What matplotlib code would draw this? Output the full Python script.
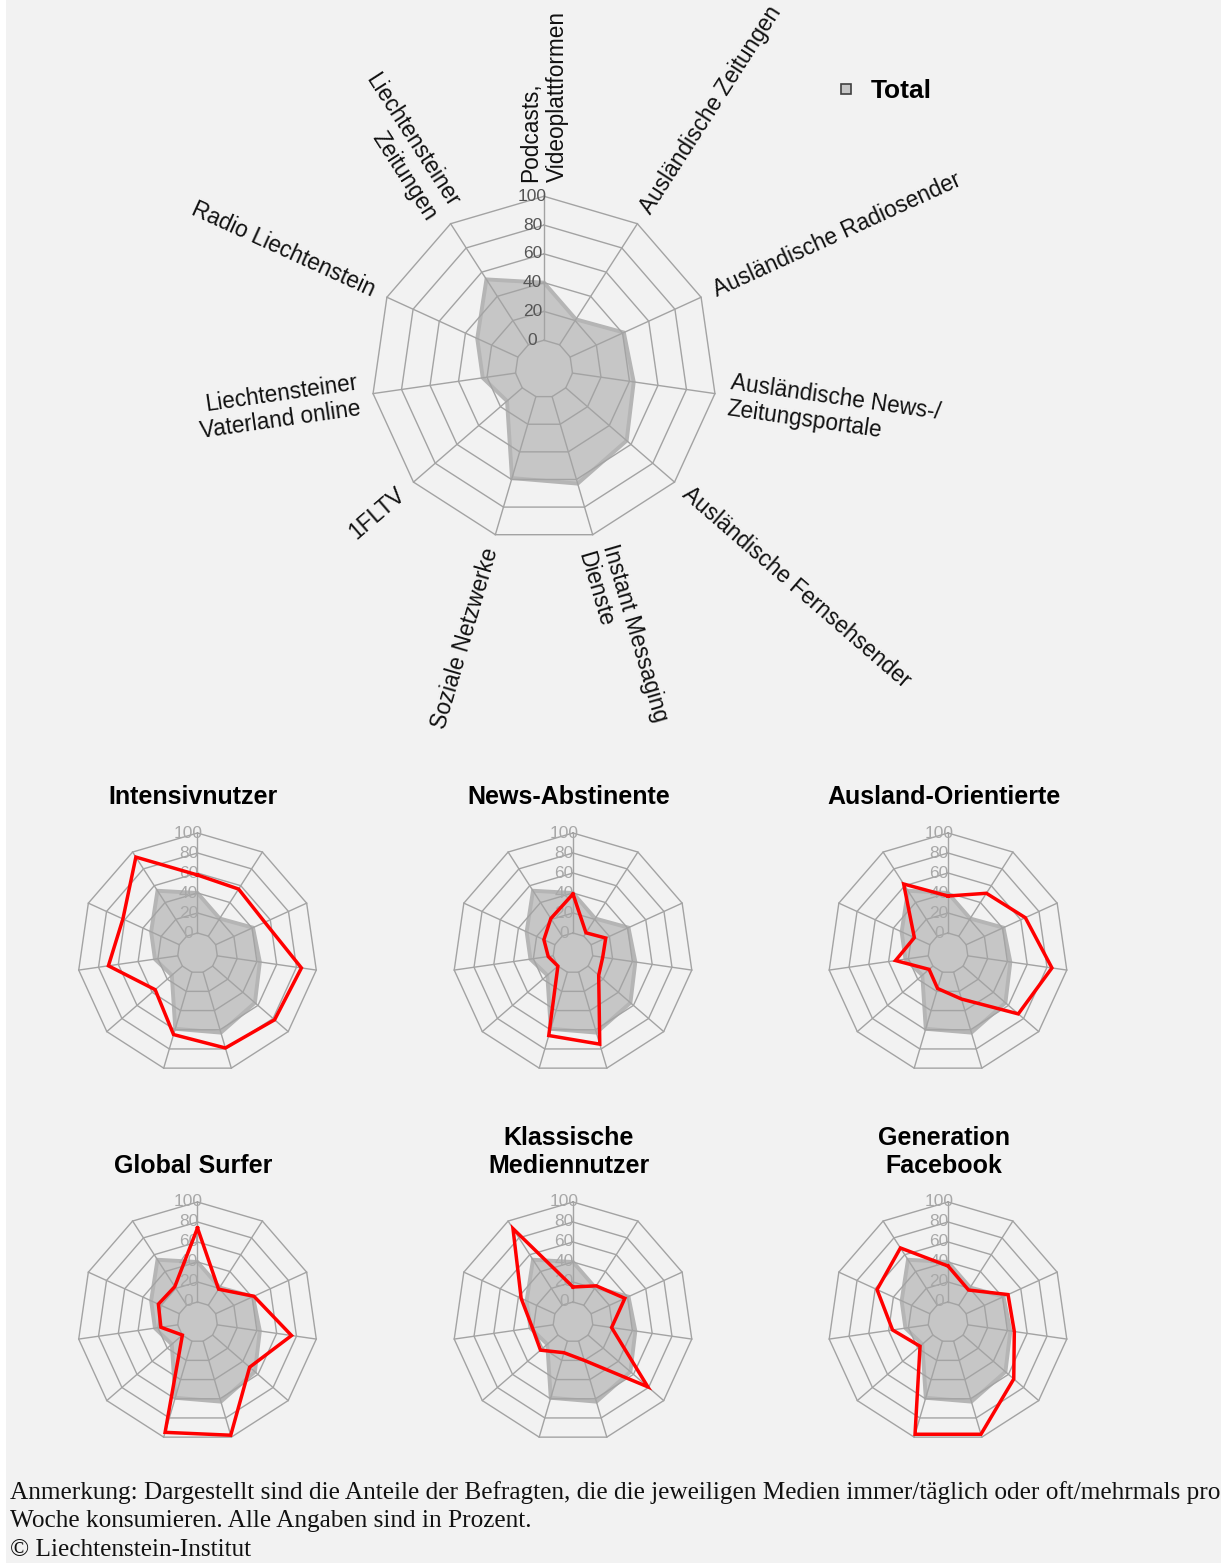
import numpy as np
import matplotlib
matplotlib.use("Agg")
import matplotlib.pyplot as plt
from matplotlib.lines import Line2D
from matplotlib.patches import Rectangle

plt.rcParams['font.family'] = ['Liberation Sans', 'DejaVu Sans']

# ---------------- data ----------------
categories = ["Podcasts,\nVideoplattformen", "Ausländische Zeitungen", "Ausländische Radiosender",
              "Ausländische News-/\nZeitungsportale", "Ausländische Fernsehsender",
              "Instant Messaging\nDienste", "Soziale Netzwerke", "1FLTV",
              "Liechtensteiner\nVaterland online", "Radio Liechtenstein",
              "Liechtensteiner\nZeitungen"]
total = [40, 21, 41, 43, 56, 63, 59, 14, 23, 31, 54]

segment_titles = ["Intensivnutzer", "News-Abstinente", "Ausland-Orientierte",
                  "Global Surfer", "Klassische\nMediennutzer", "Generation\nFacebook"]
intensivnutzer = [58, 56, 54, 85, 82, 79, 65, 36, 70, 62, 94]
news_abstinente = [39, 4, 16, 10, 14, 75, 66, 0, 5, 12, 21]
ausland_orientierte = [37, 51, 65, 85, 73, 28, 17, 5, 33, 17, 62]
global_surfer = [74, 19, 42, 75, 49, 98, 95, 0, 17, 23, 22]
klassische_mediennutzer = [15, 23, 37, 19, 79, 20, 12, 23, 21, 37, 91]
generation_facebook = [36, 18, 46, 47, 67, 97, 97, 17, 36, 58, 68]
segment_values = [intensivnutzer, news_abstinente, ausland_orientierte,
                  global_surfer, klassische_mediennutzer, generation_facebook]

radial_ticks = [0, 20, 40, 60, 80, 100]
legend_label = "Total"
note_lines = ["Anmerkung: Dargestellt sind die Anteile der Befragten, die die jeweiligen Medien immer/täglich oder oft/mehrmals pro",
              "Woche konsumieren. Alle Angaben sind in Prozent.",
              "© Liechtenstein-Institut"]

# ---------------- layout ----------------
W, H = 1221, 1567
fig = plt.figure(figsize=(W / 100, H / 100), dpi=100, facecolor='white')
fig.patches.append(Rectangle((6 / W, 1 - 1563 / H), 1 - 6 / W, 1563 / H,
                             transform=fig.transFigure, facecolor='#f2f2f2',
                             edgecolor='none', zorder=-10))

n = len(categories)
theta = np.arange(n) * 2 * np.pi / n
theta_c = np.append(theta, theta[0])

GRID = '#a3a3a3'
FILL = '#c6c6c6'
FILL_EDGE = '#b5b5b5'


def make_radar(cx, cy, R, tick_color, tick_dx, tick_fs):
    ax = fig.add_axes([(cx - R) / W, 1 - (cy + R) / H, 2 * R / W, 2 * R / H],
                      projection='polar')
    ax.set_theta_zero_location('N')
    ax.set_theta_direction(-1)
    ax.set_ylim(0, 100)
    ax.set_rorigin(-20)
    ax.axis('off')
    ax.fill(theta_c, np.append(total, total[0]), facecolor=FILL,
            edgecolor=FILL_EDGE, lw=2.8, clip_on=False, zorder=1)
    for v in radial_ticks:
        ax.plot(theta_c, [v] * (n + 1), color=GRID, lw=1.0, clip_on=False, zorder=2)
    for t in theta:
        ax.plot([t, t], [radial_ticks[0], radial_ticks[-1]], color=GRID, lw=1.0,
                clip_on=False, zorder=2)
    for v in radial_ticks:
        ax.annotate(str(v), xy=(0, v), xytext=(tick_dx, 0), textcoords='offset points',
                    ha='center', va='center', fontsize=tick_fs, color=tick_color, zorder=3,
                    annotation_clip=False)
    return ax


# main chart
main_ax = make_radar(544, 369, 172.7, '#555555', -8.3, 12.5)
for i, lab in enumerate(categories):
    phi = np.degrees(theta[i])
    rot = 90 - phi
    if rot < -90.01:
        rot += 180
        ha = 'right'
    else:
        ha = 'left'
    main_ax.text(theta[i], 110, lab, rotation=rot, rotation_mode='anchor',
                 ha=ha, va='center', multialignment=ha, fontsize=16.3,
                 color='#111111', clip_on=False)

# legend
handle = Line2D([], [], marker='s', ls='none', ms=7.5, mfc=FILL, mec='#404040', mew=1.2)
fig.legend(handles=[handle], labels=[legend_label], loc='center left',
           bbox_to_anchor=(832.5 / W, 1 - 91 / H), frameon=False,
           prop={'weight': 'bold', 'size': 19}, handlelength=1,
           handletextpad=0.45, borderpad=0, borderaxespad=0)

# small charts
centers_x = [197.5, 573, 948]
centers_y = [953, 1322]
Rs = 120
for k, (title, vals) in enumerate(zip(segment_titles, segment_values)):
    cx = centers_x[k % 3]
    cy = centers_y[k // 3]
    ax = make_radar(cx, cy, Rs, '#a8a8a8', -6.5, 12.5)
    ax.plot(theta_c, np.append(vals, vals[0]), color='#ff0000', lw=2.5,
            solid_joinstyle='miter', clip_on=False, zorder=4)
    fig.text((cx - 4) / W, 1 - (cy - Rs - 24) / H, title, ha='center', va='bottom',
             fontsize=18, fontweight='bold', color='#000000', linespacing=1.2)

# footnote, fitted to the width of the reference
note_texts = []
for j, line in enumerate(note_lines):
    t = fig.text(10 / W, 1 - (1499 + 28.5 * j) / H, line, ha='left', va='baseline',
                 fontsize=16, family=['Liberation Serif', 'DejaVu Serif'], color='#111111')
    note_texts.append(t)
renderer = fig.canvas.get_renderer()
wpx = note_texts[0].get_window_extent(renderer).width
fs = 16 * 1208 / wpx
for t in note_texts:
    t.set_fontsize(fs)

fig.savefig('out.png', dpi=100, facecolor=fig.get_facecolor())
